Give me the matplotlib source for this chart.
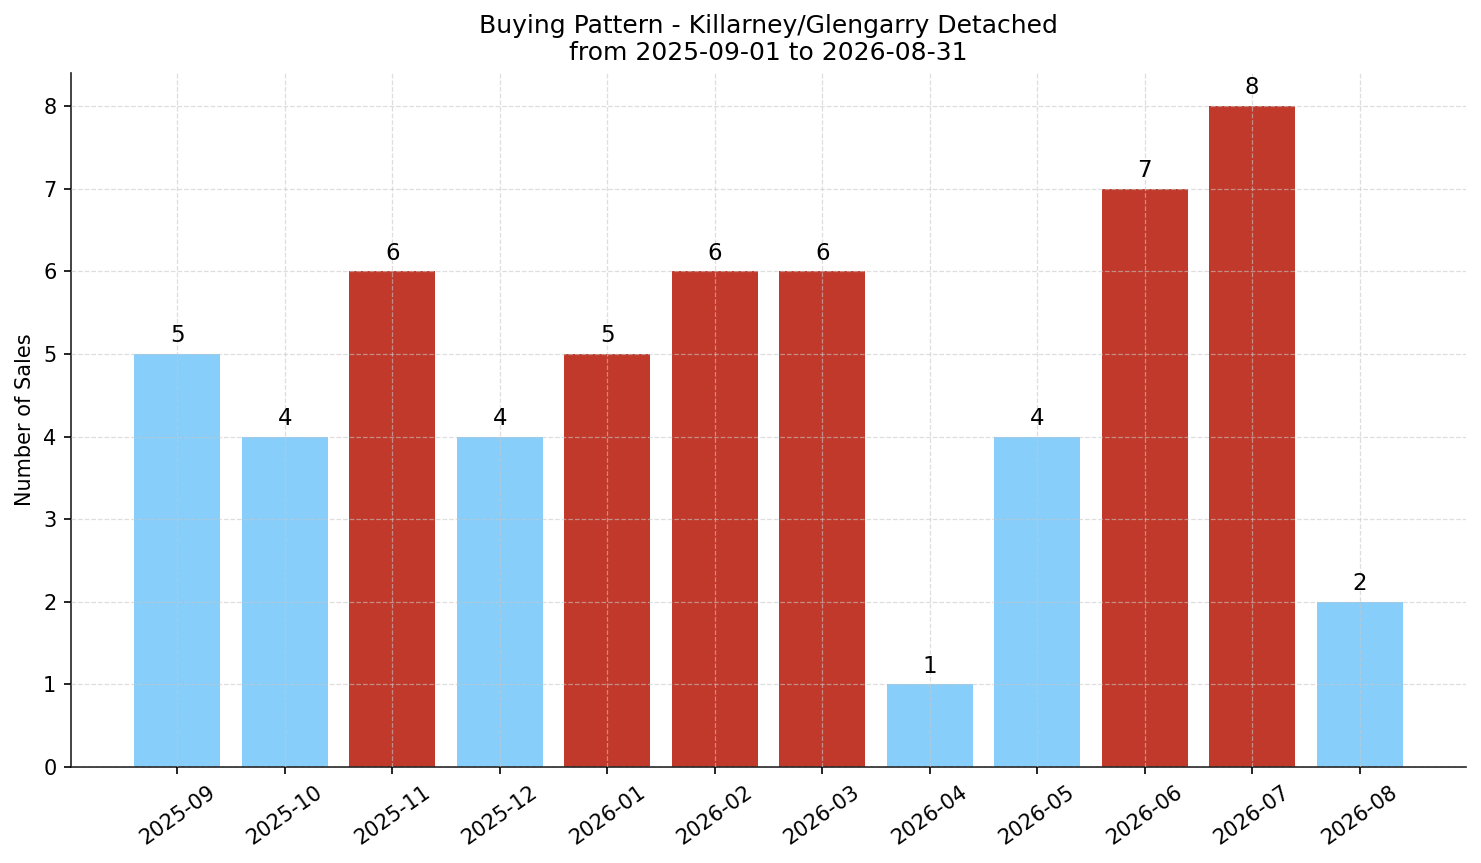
import matplotlib
matplotlib.use("Agg")
import matplotlib.pyplot as plt

# monthly sales
months = ["2025-09", "2025-10", "2025-11", "2025-12", "2026-01", "2026-02",
          "2026-03", "2026-04", "2026-05", "2026-06", "2026-07", "2026-08"]
sales = [5, 4, 6, 4, 5, 6, 6, 1, 4, 7, 8, 2]
hot = [False, False, True, False, True, True, True, False, False, True, True, False]

BLUE = "#87CEFA"
RED = "#C0392B"
colors = [RED if h else BLUE for h in hot]

fig = plt.figure(figsize=(1481/150, 863/150), dpi=150)
ax = fig.add_axes([71/1481, 1 - 767/863, (1466 - 71)/1481, (767 - 73)/863])

x = range(len(months))
bars = ax.bar(x, sales, width=0.8, color=colors)
for b, v in zip(bars, sales):
    ax.text(b.get_x() + b.get_width()/2, v + 0.08, str(v),
            ha="center", va="bottom", fontsize=11)

ax.set_xticks(list(x))
ax.set_xticklabels(months, rotation=35, fontsize=10)
ax.tick_params(axis="y", labelsize=10)
ax.set_ylabel("Number of Sales", fontsize=10)
ax.set_title("Buying Pattern - Killarney/Glengarry Detached\nfrom 2025-09-01 to 2026-08-31",
             fontsize=12)

ax.grid(True, linestyle="--", color="#c8c8c8", alpha=0.6, linewidth=0.6)
ax.set_axisbelow(False)
ax.spines["top"].set_visible(False)
ax.spines["right"].set_visible(False)
ax.spines["left"].set_color("#222222")
ax.spines["bottom"].set_color("#222222")

fig.savefig("out.png", dpi=150)
